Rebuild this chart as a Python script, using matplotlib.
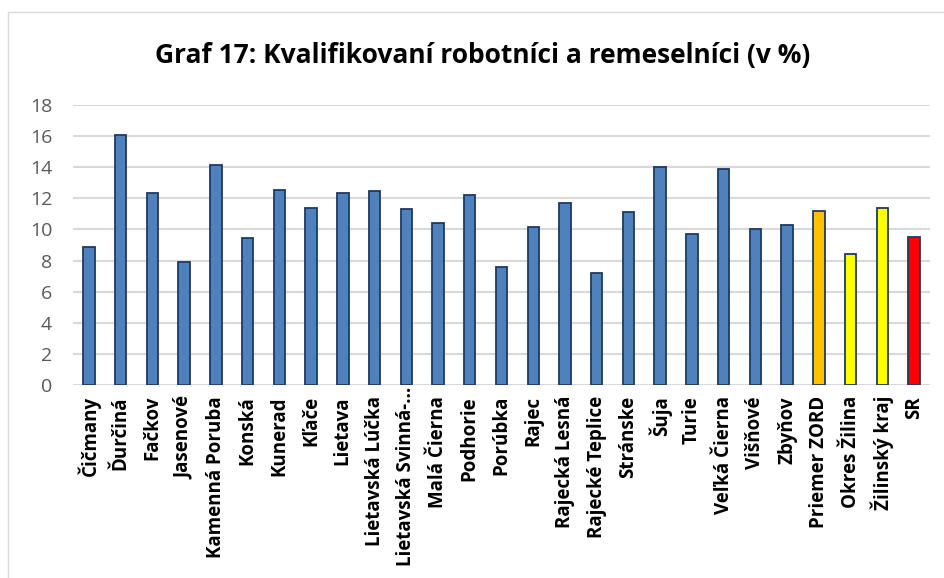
import matplotlib.pyplot as plt
from matplotlib.patches import Rectangle

plt.rcParams['font.family'] = ['Open Sans', 'DejaVu Sans']

categories = ['Čičmany', 'Ďurčiná', 'Fačkov', 'Jasenové', 'Kamenná Poruba', 'Konská',
              'Kunerad', 'Kľače', 'Lietava', 'Lietavská Lúčka', 'Lietavská Svinná-…',
              'Malá Čierna', 'Podhorie', 'Porúbka', 'Rajec', 'Rajecká Lesná',
              'Rajecké Teplice', 'Stránske', 'Šuja', 'Turie', 'Veľká Čierna', 'Višňové',
              'Zbyňov', 'Priemer ZORD', 'Okres Žilina', 'Žilinský kraj', 'SR']
values = [8.9, 16.07, 12.36, 7.88, 14.12, 9.45, 12.55, 11.4, 12.32, 12.45, 11.33,
          10.41, 12.21, 7.56, 10.15, 11.7, 7.22, 11.12, 13.99, 9.73, 13.9, 10.0,
          10.3, 11.18, 8.4, 11.37, 9.51]
colors = ['#4F81BD'] * 23 + ['#FFC000', '#FFFF00', '#FFFF00', '#FF0000']

fig = plt.figure(figsize=(9.45, 5.78), dpi=100)
ax = fig.add_axes([73 / 945, 1 - 385 / 578, 857 / 945, 280 / 578])

x = list(range(len(categories)))
ax.bar(x, values, width=0.36, color=colors, edgecolor='#1F3864', linewidth=1.3, zorder=3)

ax.set_ylim(0, 18)
ax.set_yticks(range(0, 19, 2))
ax.set_xlim(-0.5, len(categories) - 0.5)
ax.grid(axis='y', color='#D9D9D9', linewidth=1.5, zorder=0)
for s in ['top', 'right', 'left', 'bottom']:
    ax.spines[s].set_visible(False)
ax.tick_params(axis='both', length=0)
ax.tick_params(axis='y', labelsize=14, labelcolor='#595959', pad=15)
ax.tick_params(axis='x', pad=8)
ax.set_xticks(x)

# the truncated label sits higher, its ellipsis reaching up to the axis line
long_i = categories.index('Lietavská Svinná-…')
ax.set_xticklabels([c if i != long_i else '' for i, c in enumerate(categories)],
                   rotation=90, fontsize=13.5, fontweight='bold', color='black')
ax.annotate(categories[long_i], xy=(long_i, 0), xycoords=('data', 'axes fraction'),
            xytext=(0, -1), textcoords='offset points', rotation=90, ha='center', va='top',
            fontsize=13.5, fontweight='bold', color='black')

fig.text(483 / 945, 1 - 55 / 578, 'Graf 17: Kvalifikovaní robotníci a remeselníci (v %)',
         ha='center', va='center', fontsize=19, fontweight='bold')

fig.patches.append(Rectangle((8 / 945, -0.1), 1.2, 1 - 12 / 578 + 0.1, transform=fig.transFigure,
                             fill=False, edgecolor='#D9D9D9', linewidth=1))

fig.savefig('out.png', dpi=100)
